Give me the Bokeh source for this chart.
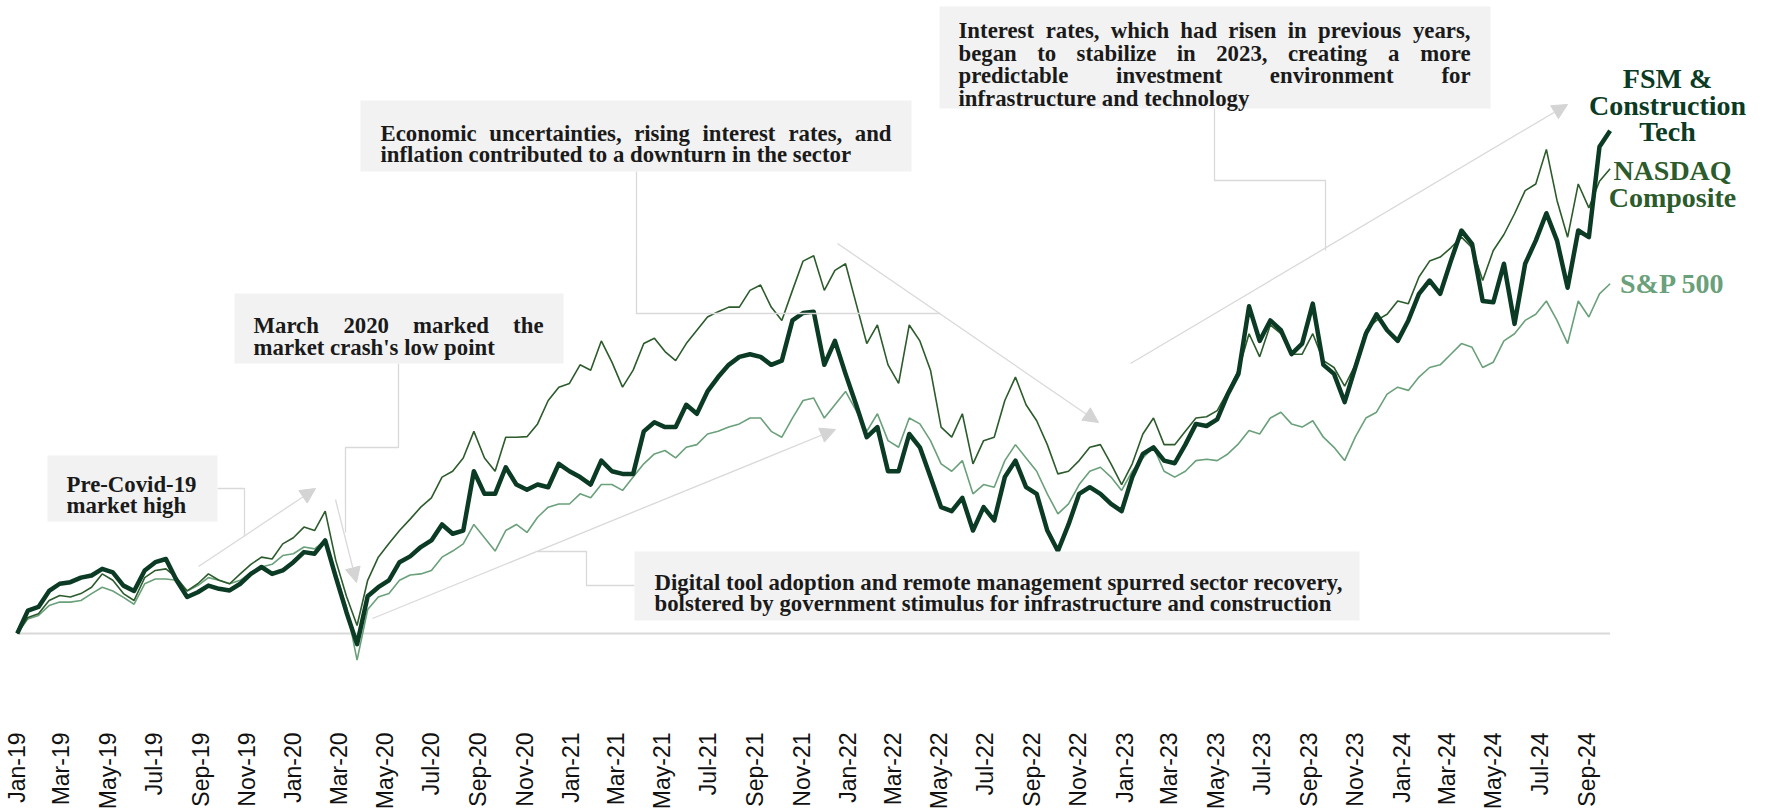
import pandas as pd
from math import pi
from bokeh.plotting import figure
from bokeh.models import Range1d, FixedTicker, DatetimeTickFormatter, Arrow, NormalHead
from bokeh.core.properties import value
from bokeh.embed import file_html
from bokeh.resources import INLINE

# ---------------- data (cumulative return, %) -------------
start_date = "2019-01-02"
step_days = 14

fsm = [0, 8.6, 10, 16, 18.7, 19.3, 21, 21.8, 24.3, 23, 18, 16, 23.7, 26.8, 28, 20,
       13.7, 15.5, 18, 16.8, 16.2, 18.7, 22.4, 25, 22.4, 23.7, 26.8, 30.6, 30, 35, 21.2,
       8, -4, 14, 17.4, 20, 26.8, 29, 32.5, 35, 41, 37.5, 38.7, 61, 52.5, 52.5, 62.5,
       56, 54, 56, 55, 63.8, 61, 58.8, 56, 65, 61, 60, 60, 76, 79.4, 77.6, 77.6, 86,
       82.6, 91, 96.4, 101, 104, 105, 104, 101, 102.6, 117.7, 120.5, 121, 101, 110,
       97.6, 86, 73.8, 77.6, 61, 61, 75, 70, 58.8, 47.5, 46, 51, 38.7, 47.5, 42.5,
       58.8, 65, 55, 52.5, 38.7, 31, 41, 52.5, 55, 52.5, 48.7, 46, 58.8, 67.5, 70, 65,
       64, 71, 78.8, 78, 80.5, 90, 97.6, 123, 110, 117.7, 114, 105, 109, 124, 101,
       97.6, 87, 100, 112.7, 120, 114, 110, 117.7, 127.7, 132.7, 127.7, 140, 151.5,
       146.5, 125, 124.5, 139, 116.4, 139, 147.7, 158, 147.7, 130, 151.5, 149, 183, 189]

nasdaq = [0, 6, 7.4, 12.4, 14.3, 13.7, 15, 17.4, 22.4, 20, 15, 12.4, 21, 23.7, 24.3, 21,
          16, 18.7, 22.4, 20, 18.7, 22.4, 26, 28.7, 28, 33.7, 36, 40, 38.7, 46, 27.4,
          14, 3, 20, 28.7, 33.8, 38.7, 43, 47.5, 51, 58.8, 61, 66, 76, 66, 61, 73.8,
          73.8, 74, 78.8, 87.6, 92.6, 94, 101, 99, 110, 102, 92.6, 99, 109, 111, 106,
          102.6, 109, 114, 119, 121, 122.7, 122.7, 129, 131, 122.7, 117.7, 129, 140, 142,
          129, 136.5, 139, 124, 109, 116, 101, 94, 116, 110, 99, 77.6, 73.8, 82.6, 63.8,
          72.5, 73.8, 87.6, 96.4, 86, 80, 71, 60, 61, 65, 70, 71, 63.8, 56, 63.8, 75, 81,
          71, 71, 76, 81, 81.5, 83.8, 91, 99, 112.7, 104, 116, 112.7, 105, 105, 112.7,
          102.6, 100, 93, 101, 114, 117.7, 120, 125, 124, 134, 140, 141.5, 145, 149, 145,
          132.7, 144, 150, 157.8, 166.5, 169, 182, 162.8, 149, 169, 160, 170, 174.7]

sp500 = [0, 5.5, 6.8, 10.5, 11.8, 11.8, 12.4, 15, 17.4, 16, 13.6, 11, 18.7, 20.5, 20.5,
         20, 16, 18, 21, 20, 18.7, 20, 23, 25, 26, 29.3, 30, 32.5, 31.8, 35, 22.4, 10,
         -10, 9, 13.7, 15, 20, 22, 22.4, 23.7, 28.7, 31, 33.7, 41, 36, 31, 38.7, 41, 38,
         43.7, 47.5, 48.7, 48.7, 52.5, 51, 56, 56, 53.8, 58.8, 63.8, 67.5, 68.8, 66, 70,
         71, 75, 76, 77.6, 78.8, 81, 81, 76, 73.8, 81, 87.6, 88.5, 81, 86, 91, 83.8, 76,
         82.6, 72.5, 70, 81, 78.8, 72.5, 63.8, 61, 65, 52.5, 56, 55, 65, 71, 66, 61,
         52.5, 45, 48.7, 56, 61, 62.5, 58.8, 53.8, 61, 66, 70, 61, 58.8, 61, 65, 65.5,
         65, 67.5, 71.3, 76.3, 75, 81, 83.2, 78.8, 77.6, 80, 73.8, 70, 65, 73.8, 81,
         83.2, 90, 92.6, 91.4, 96.4, 100, 101, 105, 109, 107.6, 100, 102, 110, 112.7,
         117.7, 120, 125, 117.7, 109, 125, 119, 127.7, 131.5]

dates = pd.date_range(start_date, periods=len(fsm), freq=f"{step_days}D")
tick_dates = pd.date_range("2019-01-01", "2024-09-01", freq="2MS")

series_names = ["FSM &\nConstruction\nTech", "NASDAQ\nComposite", "S&P 500"]

ann_precovid = ["Pre-Covid-19", "market high"]
ann_march = ["March 2020 marked the", "market crash's low point"]
ann_econ = ["Economic uncertainties, rising interest rates, and",
            "inflation contributed to a downturn in the sector"]
ann_rates = ["Interest rates, which had risen in previous years,",
             "began to stabilize in 2023, creating a more",
             "predictable investment environment for",
             "infrastructure and technology"]
ann_digital = ["Digital tool adoption and remote management spurred sector recovery,",
               "bolstered by government stimulus for infrastructure and construction"]

# ---------------- styling / geometry ----------------
FSM_C = "#0b3b24"
NAS_C = "#2c5b2c"
SP_C = "#6aa07a"
GREY = "#d9d9d9"
BOX_C = "#f2f2f2"
TXT_C = "#1a1a1a"
SERIF = "Liberation Serif"
ANN_SIZE = 22.8

ORIGIN = pd.Timestamp("2019-01-01")
PX0, PX_PER_DAY = 16.0, 0.7585
ZERO_PY, PX_PER_PCT = 633.0, 2.66
FRAME_W, FRAME_H = 1766, 728


def X(px):
    return (ORIGIN + pd.Timedelta(days=(px - PX0) / PX_PER_DAY)).value / 1e6


def Y(py):
    return (ZERO_PY - py) / PX_PER_PCT


p = figure(frame_width=FRAME_W, frame_height=FRAME_H, x_axis_type="datetime",
           x_range=Range1d(X(0), X(FRAME_W)), y_range=Range1d(Y(FRAME_H), Y(0)),
           y_axis_location=None, toolbar_location=None, output_backend="svg",
           min_border_left=0, min_border_right=0, min_border_top=0,
           min_border_bottom=0, outline_line_color=None)
p.xgrid.grid_line_color = None
p.ygrid.grid_line_color = None
ax = p.xaxis[0]
ax.ticker = FixedTicker(ticks=[t.value / 1e6 for t in tick_dates])
ax.formatter = DatetimeTickFormatter(days="%b-%y", months="%b-%y", years="%b-%y")
ax.major_label_orientation = pi / 2
ax.major_label_text_font = "Liberation Sans"
ax.major_label_text_font_size = "23px"
ax.major_label_text_color = "#111111"
ax.major_label_standoff = 4
ax.major_tick_out = 0
ax.major_tick_in = 0
ax.minor_tick_out = 0
ax.minor_tick_in = 0
ax.axis_line_color = None
ax.major_tick_line_color = None
ax.minor_tick_line_color = None

# baseline
p.segment(x0=[dates[0]], y0=[0], x1=[dates[-1]], y1=[0], line_color=GREY, line_width=2)

# series
p.line(dates, sp500, line_color=SP_C, line_width=1.6)
p.line(dates, nasdaq, line_color=NAS_C, line_width=1.6)
p.line(dates, fsm, line_color=FSM_C, line_width=4.5, line_join="round")

# connectors (pixel polylines)
connectors = [
    [(217, 488), (244, 488), (244, 535)],
    [(398, 363), (398, 447), (345, 447), (345, 532)],
    [(636, 171), (636, 313), (940, 313)],
    [(1214, 108), (1214, 180), (1325, 180), (1325, 250)],
    [(634, 585), (586, 585), (586, 551), (537, 551)],
]
p.multi_line(xs=[[X(a) for a, b in c] for c in connectors],
             ys=[[Y(b) for a, b in c] for c in connectors],
             line_color=GREY, line_width=1.3)

arrows = [((198, 566), (315, 488)),
          ((335, 499), (356, 582)),
          ((837, 243), (1098, 422)),
          ((1130, 363), (1567, 104)),
          ((372, 618), (835, 429))]
for (sx, sy), (ex, ey) in arrows:
    p.add_layout(Arrow(end=NormalHead(size=15, fill_color="#d4d4d4", line_color="#d4d4d4"),
                       x_start=X(sx), y_start=Y(sy), x_end=X(ex), y_end=Y(ey),
                       line_color=GREY, line_width=1.3))

# annotation boxes
boxes = [
    (ann_precovid, (47, 455, 217, 521), 66, 200, [484, 505], [False, False]),
    (ann_march, (234, 293, 563, 363), 253, 543, [325, 347], [True, False]),
    (ann_econ, (360, 100, 911, 171), 380, 891, [133, 154], [True, False]),
    (ann_rates, (939, 6, 1490, 108), 958, 1470, [30, 52.5, 75, 97.5], [True, True, True, False]),
    (ann_digital, (634, 551, 1359, 620), 654, 1340, [582, 603], [False, False]),
]
p.quad(left=[X(b[1][0]) for b in boxes], right=[X(b[1][2]) for b in boxes],
       top=[Y(b[1][1]) for b in boxes], bottom=[Y(b[1][3]) for b in boxes],
       fill_color=BOX_C, line_color=None)

TB = {" ": 250, ",": 250, ".": 250, "-": 333, "'": 278, "&": 833}
TB.update({d: 500 for d in "0123456789"})
TB.update(dict(zip("ABCDEFGHIJKLMNOPQRSTUVWXYZ",
                   [722, 667, 722, 722, 667, 611, 778, 778, 389, 500, 778, 667, 944,
                    722, 778, 611, 778, 722, 556, 667, 722, 722, 1000, 722, 722, 667])))
TB.update(dict(zip("abcdefghijklmnopqrstuvwxyz",
                   [500, 556, 444, 556, 444, 333, 500, 556, 278, 333, 556, 278, 833,
                    556, 500, 556, 556, 444, 389, 333, 556, 500, 722, 500, 500, 444])))


def tw(s):
    return sum(TB.get(c, 500) for c in s) / 1000 * ANN_SIZE


lx, ly, lt, rx, ry, rt = [], [], [], [], [], []
for lines, box, left, right, bases, just in boxes:
    for line, base, j in zip(lines, bases, just):
        words = line.split(" ")
        if j and len(words) > 1:
            widths = [tw(w) for w in words]
            gap = (right - left - sum(widths)) / (len(words) - 1)
            x = left
            for w, wd in zip(words[:-1], widths[:-1]):
                lx.append(X(x)); ly.append(Y(base)); lt.append(w)
                x += wd + gap
            rx.append(X(right)); ry.append(Y(base)); rt.append(words[-1])
        else:
            lx.append(X(left)); ly.append(Y(base)); lt.append(line)

common = dict(text_font=value(SERIF), text_font_style="bold",
              text_font_size=f"{ANN_SIZE}px", text_color=TXT_C, text_baseline="alphabetic")
p.text(x=lx, y=ly, text=lt, text_align="left", **common)
p.text(x=rx, y=ry, text=rt, text_align="right", **common)

# series labels
lab_pos = [(1667, [78, 105, 131]), (1672, [170, 197]), (1672, [283])]
lab_col = [FSM_C, NAS_C, SP_C]
for name, (cx, ys), col in zip(series_names, lab_pos, lab_col):
    parts = name.split("\n")
    p.text(x=[X(cx)] * len(parts), y=[Y(v) for v in ys], text=parts,
           text_font=value(SERIF), text_font_style="bold", text_font_size="28px",
           text_color=col, text_align="center", text_baseline="middle")

open("out.html", "w").write(file_html(p, INLINE))
